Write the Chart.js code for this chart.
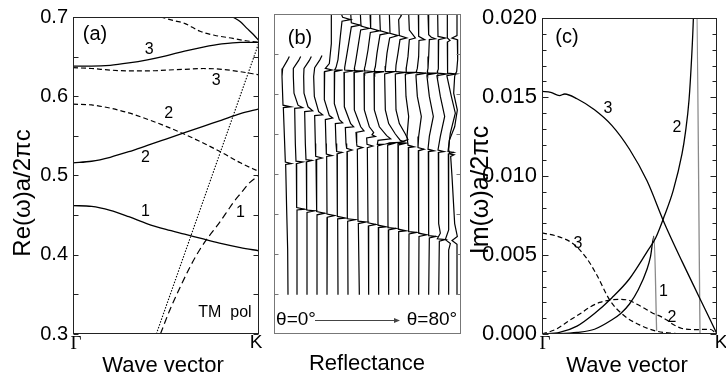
<!DOCTYPE html>
<html>
<head>
<meta charset="utf-8">
<script src="https://cdn.jsdelivr.net/npm/chart.js@4.4.0/dist/chart.umd.min.js"></script>
<style>
  html, body { margin: 0; padding: 0; background: #fff; }
  #wrap { position: relative; width: 726px; height: 376px; overflow: hidden; }
  canvas { position: absolute; top: 0; }
</style>
</head>
<body>
<div id="wrap">
  <canvas id="bandChart" width="265" height="376" style="left:0"></canvas>
  <canvas id="reflChart" width="205" height="376" style="left:265px"></canvas>
  <canvas id="lossChart" width="256" height="376" style="left:470px"></canvas>
</div>
<script>
const SANS = "'Liberation Sans', Arial, sans-serif";
const SERIF = "'Liberation Serif', 'Times New Roman', serif";
Chart.defaults.font.family = SANS;
Chart.defaults.color = '#000';

// ---- (a) Re(w)a/2pi c along Gamma -> K
const kBand = [0, 0.1, 0.2, 0.3, 0.4, 0.5, 0.6, 0.7, 0.8, 0.9, 1.0];
const reSolid1 = [0.462, 0.461, 0.456, 0.448, 0.439, 0.432, 0.426, 0.420, 0.414, 0.409, 0.405];
const reSolid2 = [0.516, 0.518, 0.523, 0.530, 0.538, 0.546, 0.554, 0.562, 0.570, 0.578, 0.584];
const reSolid3 = [0.638, 0.638, 0.639, 0.642, 0.646, 0.651, 0.657, 0.662, 0.666, 0.668, 0.668];
const reDash2 = [0.590, 0.589, 0.585, 0.579, 0.571, 0.562, 0.552, 0.541, 0.529, 0.516, 0.505];
const reDash3 = [0.636, 0.635, 0.633, 0.632, 0.632, 0.633, 0.634, 0.635, 0.634, 0.631, 0.627];
const kDash1 = [0.47, 0.52, 0.576, 0.63, 0.683, 0.73, 0.773, 0.83, 0.862, 0.9, 0.95, 1.0];
const reDash1 = [0.300, 0.330, 0.359, 0.385, 0.407, 0.423, 0.436, 0.455, 0.466, 0.477, 0.491, 0.500];
const kDash4 = [0.47, 0.55, 0.6, 0.683, 0.76, 0.86, 0.93, 1.0];
const reDash4 = [0.700, 0.695, 0.692, 0.682, 0.677, 0.673, 0.670, 0.668];
const kSolid4 = [0.86, 0.9, 0.934, 0.97, 1.0];
const reSolid4 = [0.700, 0.694, 0.686, 0.678, 0.670];
const kLight = [0.448, 1.0];
const reLight = [0.300, 0.668];

// ---- (b) reflectance traces, theta = 0 ... 80 deg, [offset, frequency]
const reflTraces = [
  [[52,.647],[46,.642],[32,.632],[30,.622],[33,.586],[56,.584],[34,.583],[40,.515],[58,.513],[41,.512],[44,.455],[47,.405],[48,.349]],
  [[86,.647],[80,.642],[64,.632],[64,.622],[66,.601],[78,.586],[92,.583],[68,.582],[70,.538],[72,.516],[92,.515],[73,.513],[74,.458],[98,.456],[75,.455],[75,.349]],
  [[118,.647],[112,.642],[96,.632],[95,.622],[96,.601],[108,.584],[122,.579],[98,.578],[100,.538],[102,.518],[120,.517],[103,.515],[104,.455],[128,.454],[105,.452],[105,.349]],
  [[150,.648],[144,.643],[128,.633],[125,.622],[127,.597],[140,.578],[152,.574],[128,.573],[130,.538],[131,.522],[150,.520],[132,.518],[134,.453],[158,.451],[135,.449],[135,.349]],
  [[178,.701],[178,.663],[172,.638],[160,.632],[180,.630],[158,.628],[156,.622],[158,.593],[172,.573],[182,.570],[160,.568],[162,.538],[163,.525],[180,.523],[164,.522],[165,.450],[188,.448],[166,.446],[165,.349]],
  [[207,.701],[212,.696],[236,.693],[210,.691],[205,.672],[198,.643],[192,.633],[188,.630],[212,.630],[188,.628],[186,.622],[188,.588],[202,.568],[212,.564],[190,.563],[192,.538],[194,.528],[210,.527],[195,.525],[196,.447],[220,.445],[197,.444],[198,.349]],
  [[236,.701],[238,.689],[264,.686],[238,.684],[230,.663],[222,.643],[218,.633],[218,.630],[245,.629],[216,.627],[216,.622],[218,.584],[236,.563],[245,.559],[220,.558],[222,.538],[224,.532],[240,.530],[225,.528],[226,.444],[250,.443],[227,.441],[228,.349]],
  [[265,.701],[267,.685],[292,.682],[266,.680],[258,.659],[250,.638],[247,.632],[248,.629],[275,.629],[246,.627],[246,.622],[248,.580],[266,.559],[276,.554],[252,.552],[254,.538],[255,.535],[272,.533],[256,.531],[258,.441],[282,.440],[259,.438],[262,.349]],
  [[294,.701],[296,.682],[322,.679],[295,.677],[288,.655],[280,.636],[277,.631],[278,.629],[305,.628],[276,.626],[276,.622],[278,.580],[292,.559],[305,.552],[300,.549],[310,.547],[284,.545],[285,.537],[302,.535],[286,.533],[288,.439],[312,.437],[289,.435],[290,.349]],
  [[323,.701],[325,.679],[350,.676],[324,.674],[315,.651],[310,.634],[307,.630],[308,.628],[336,.628],[306,.626],[306,.622],[308,.580],[322,.559],[344,.548],[356,.544],[318,.542],[316,.537],[334,.537],[317,.535],[318,.436],[342,.434],[319,.433],[320,.349]],
  [[352,.701],[354,.676],[378,.673],[353,.670],[345,.651],[341,.635],[339,.630],[340,.628],[368,.628],[338,.625],[338,.622],[340,.580],[350,.563],[370,.550],[385,.542],[398,.540],[352,.539],[346,.538],[364,.538],[347,.536],[348,.433],[372,.432],[349,.430],[350,.349]],
  [[381,.701],[388,.698],[380,.693],[382,.673],[404,.670],[384,.668],[378,.651],[372,.636],[371,.629],[372,.628],[400,.627],[370,.625],[370,.622],[372,.580],[382,.563],[400,.550],[408,.543],[380,.539],[378,.538],[397,.538],[378,.536],[379,.431],[402,.429],[380,.428],[380,.349]],
  [[410,.701],[412,.680],[430,.670],[412,.668],[408,.647],[403,.633],[402,.629],[403,.627],[432,.627],[401,.625],[400,.622],[402,.597],[410,.572],[405,.547],[408,.536],[426,.534],[409,.533],[410,.428],[434,.427],[411,.425],[410,.349]],
  [[439,.701],[440,.672],[458,.668],[441,.667],[440,.647],[436,.632],[433,.628],[434,.627],[462,.626],[432,.624],[432,.622],[436,.597],[448,.572],[440,.547],[438,.533],[456,.531],[439,.529],[440,.426],[464,.424],[441,.422],[440,.349]],
  [[468,.701],[470,.674],[478,.671],[490,.669],[472,.668],[470,.647],[468,.632],[466,.628],[467,.626],[495,.626],[465,.624],[465,.622],[472,.597],[484,.572],[472,.547],[468,.531],[486,.529],[469,.528],[470,.423],[492,.422],[472,.420],[470,.349]],
  [[497,.701],[498,.672],[520,.670],[500,.668],[500,.647],[498,.631],[496,.628],[497,.626],[524,.625],[495,.623],[495,.622],[505,.597],[518,.572],[505,.547],[498,.530],[516,.528],[499,.527],[500,.438],[505,.426],[496,.419],[520,.418],[502,.416],[500,.349]],
  [[526,.701],[526,.670],[534,.667],[526,.665],[527,.647],[527,.631],[526,.627],[527,.626],[552,.625],[525,.623],[525,.622],[538,.597],[550,.576],[535,.551],[528,.528],[545,.527],[529,.525],[530,.430],[520,.418],[535,.413],[530,.405],[530,.349]],
  [[555,.701],[555,.673],[540,.670],[556,.668],[557,.643],[554,.628],[550,.625],[548,.622],[545,.601],[556,.580],[548,.559],[532,.542],[530,.530],[534,.525],[546,.524],[536,.522],[540,.497],[548,.438],[556,.422],[540,.417],[555,.412],[555,.349]]
];
const reflTickFreqs = [0.35, 0.4, 0.45, 0.5, 0.55, 0.6, 0.65];

// ---- (c) Im(w)a/2pi c along Gamma -> K
const kIm3 = [0, 0.05, 0.1, 0.13, 0.2, 0.3, 0.4, 0.5, 0.6, 0.7, 0.8, 0.9, 1.0];
const imSolid3 = [0.01536, 0.0153, 0.0151, 0.0152, 0.0149, 0.0142, 0.0132, 0.0117, 0.0097, 0.0070, 0.0046, 0.0023, 0.0];
const kIm2 = [0, 0.1, 0.2, 0.3, 0.4, 0.5, 0.6, 0.65, 0.7, 0.75, 0.8, 0.82, 0.84, 0.855, 0.865, 0.872, 0.88, 0.903];
const imSolid2 = [0, 0.0001, 0.0005, 0.0013, 0.0023, 0.0035, 0.0052, 0.0061, 0.0075, 0.0091, 0.0114, 0.0128, 0.0148, 0.0175, 0.0200, 0.0230, 0.0230, 0.0];
const kIm1 = [0, 0.1, 0.2, 0.3, 0.4, 0.45, 0.5, 0.55, 0.6, 0.62, 0.64, 0.655];
const imSolid1 = [0, 0.00002, 0.0001, 0.0003, 0.0009, 0.0013, 0.0019, 0.0028, 0.0041, 0.0049, 0.0062, 0.0002];
const kImD3 = [0, 0.084, 0.18, 0.255, 0.31, 0.39, 0.465, 0.56, 0.655, 0.75, 0.85, 1.0];
const imDash3 = [0.0064, 0.0062, 0.0057, 0.0048, 0.0038, 0.0021, 0.0012, 0.00056, 0.00018, 0.00005, 0.0, 0.0];
const kImD2 = [0, 0.08, 0.16, 0.22, 0.274, 0.33, 0.389, 0.446, 0.5, 0.54, 0.59, 0.636, 0.68, 0.713, 0.75, 0.8, 0.884, 0.96, 1.0];
const imDash2 = [0, 0.0003, 0.00088, 0.0013, 0.0017, 0.0020, 0.00215, 0.0022, 0.00212, 0.0019, 0.0016, 0.0013, 0.0011, 0.00088, 0.0006, 0.00035, 0.00028, 0.0003, 0.0];

function curve(xs, ys, extra) {
  return Object.assign({
    data: xs.map((x, i) => ({x: x, y: ys[i]})),
    showLine: true, borderColor: '#000', borderWidth: 1.3, pointRadius: 0,
    fill: false, cubicInterpolationMode: 'monotone'
  }, extra || {});
}

// frame, inward ticks and free text for each panel
function makeDeco(cfg) {
  return {
    id: 'deco',
    afterDatasetsDraw(chart) {
      const ctx = chart.ctx, a = chart.chartArea, sx = chart.scales.x, sy = chart.scales.y;
      ctx.save();
      const L = Math.round(a.left) + 0.5, R = Math.round(a.right) - 0.5;
      const T = Math.round(a.top) + 0.5, B = Math.round(a.bottom) - 0.5;
      ctx.strokeStyle = cfg.frame; ctx.lineWidth = 1;
      ctx.strokeRect(L, T, R - L, B - T);
      const vals = cfg.tickValues || sy.ticks.map(t => t.value);
      vals.forEach(v => {
        const py = Math.round(sy.getPixelForValue(v)) + 0.5;
        const major = cfg.majorEvery && Math.abs(v / cfg.majorEvery - Math.round(v / cfg.majorEvery)) < 1e-6;
        const len = major ? cfg.majorLen : cfg.minorLen;
        ctx.beginPath();
        ctx.moveTo(L, py); ctx.lineTo(L + len, py);
        ctx.moveTo(R, py); ctx.lineTo(R - len, py);
        ctx.stroke();
      });
      (cfg.texts || []).forEach(t => {
        const x = t.data ? sx.getPixelForValue(t.x) : t.x;
        const y = t.data ? sy.getPixelForValue(t.y) : t.y;
        ctx.save();
        ctx.translate(x, y);
        if (t.rot) ctx.rotate(t.rot);
        ctx.font = t.font; ctx.fillStyle = '#000';
        ctx.textAlign = 'center'; ctx.textBaseline = 'middle';
        ctx.fillText(t.text, 0, 0);
        ctx.restore();
      });
      if (cfg.arrow) {
        const ar = cfg.arrow;
        ctx.strokeStyle = '#444'; ctx.fillStyle = '#444'; ctx.lineWidth = 1;
        ctx.beginPath(); ctx.moveTo(ar.x0, ar.y + 0.5); ctx.lineTo(ar.x1 - 5, ar.y + 0.5); ctx.stroke();
        ctx.beginPath(); ctx.moveTo(ar.x1, ar.y + 0.5); ctx.lineTo(ar.x1 - 6, ar.y - 2);
        ctx.lineTo(ar.x1 - 6, ar.y + 3); ctx.closePath(); ctx.fill();
      }
      ctx.restore();
    }
  };
}

const DASH = [5, 3];
const lbl = (text, x, y) => ({text, x, y, data: true, font: '16px ' + SANS});

// ---------- panel (a)
new Chart(document.getElementById('bandChart'), {
  type: 'scatter',
  data: { datasets: [
    curve(kBand, reSolid1), curve(kBand, reSolid2), curve(kBand, reSolid3),
    curve(kBand, reDash2, {borderDash: DASH, borderWidth: 1.2}),
    curve(kBand, reDash3, {borderDash: DASH, borderWidth: 1.2}),
    curve(kDash1, reDash1, {borderDash: [7, 4], borderWidth: 1.2}),
    curve(kDash4, reDash4, {borderDash: DASH, borderWidth: 1.2}),
    curve(kSolid4, reSolid4),
    curve(kLight, reLight, {borderDash: [1.5, 1.5], borderWidth: 1.1})
  ]},
  options: {
    responsive: false, animation: false, events: [],
    layout: { padding: {top: 14, right: 6, bottom: 42, left: 0} },
    plugins: { legend: {display: false}, tooltip: {enabled: false} },
    scales: {
      x: { type: 'linear', min: 0, max: 1, display: false },
      y: {
        min: 0.3, max: 0.7,
        grid: {display: false, drawTicks: false}, border: {display: false},
        ticks: {
          stepSize: 0.05, autoSkip: false, maxTicksLimit: 30, padding: 5,
          font: {size: 20, family: SANS}, color: '#000',
          callback: v => Math.abs(v * 10 - Math.round(v * 10)) < 1e-6 ? v.toFixed(1) : ''
        },
        afterFit: s => { s.width = 73; }
      }
    }
  },
  plugins: [makeDeco({
    frame: '#222', minorLen: 5, majorLen: 5,
    texts: [
      lbl('1', 0.39, 0.455), lbl('2', 0.39, 0.522), lbl('3', 0.41, 0.659),
      lbl('3', 0.77, 0.620), lbl('2', 0.515, 0.578), lbl('1', 0.90, 0.453),
      {text: '(a)', x: 95, y: 34, font: '20px ' + SANS},
      {text: 'TM  pol', x: 225, y: 313, font: '16px ' + SANS},
      {text: 'Γ', x: 76, y: 344, font: '19px ' + SERIF},
      {text: 'K', x: 256, y: 343, font: '19px ' + SANS},
      {text: 'Wave vector', x: 163, y: 366, font: '22px ' + SANS},
      {text: 'Re(ω)a/2πc', x: 23, y: 193, rot: -Math.PI / 2, font: '24px ' + SANS}
    ]
  })]
});

// ---------- panel (b)
new Chart(document.getElementById('reflChart'), {
  type: 'scatter',
  data: { datasets: reflTraces.map(tr => ({
    data: tr.map(p => ({x: p[0], y: p[1]})),
    showLine: true, borderColor: '#000', borderWidth: 1.2, pointRadius: 0, tension: 0
  }))},
  options: {
    responsive: false, animation: false, events: [],
    layout: { padding: {top: 14, right: 9, bottom: 42, left: 9} },
    plugins: { legend: {display: false}, tooltip: {enabled: false} },
    scales: {
      x: { type: 'linear', min: 6, max: 567, display: false },
      y: { min: 0.3, max: 0.7, display: false }
    }
  },
  plugins: [makeDeco({
    frame: '#777', tickValues: reflTickFreqs, minorLen: 4, majorLen: 4,
    texts: [
      {text: '(b)', x: 35, y: 38, font: '20px ' + SANS},
      {text: 'θ=0°', x: 31, y: 320, font: '19px ' + SANS},
      {text: 'θ=80°', x: 167, y: 320, font: '19px ' + SANS},
      {text: 'Reflectance', x: 102, y: 364, font: '22px ' + SANS}
    ],
    arrow: {x0: 50, x1: 135, y: 320}
  })]
});

// ---------- panel (c)
const GREY = '#8a8a8a';
new Chart(document.getElementById('lossChart'), {
  type: 'scatter',
  data: { datasets: [
    curve(kIm3, imSolid3),
    curve(kIm2, imSolid2, {segment: {borderColor: c => c.p0DataIndex >= kIm2.length - 2 ? GREY : undefined}}),
    curve(kIm1, imSolid1, {segment: {borderColor: c => c.p0DataIndex >= kIm1.length - 2 ? GREY : undefined}}),
    curve(kImD3, imDash3, {borderDash: DASH, borderWidth: 1.2}),
    curve(kImD2, imDash2, {borderDash: DASH, borderWidth: 1.2})
  ]},
  options: {
    responsive: false, animation: false, events: [],
    layout: { padding: {top: 14, right: 9, bottom: 42, left: 0} },
    plugins: { legend: {display: false}, tooltip: {enabled: false} },
    scales: {
      x: { type: 'linear', min: 0, max: 1, display: false },
      y: {
        min: 0, max: 0.02,
        grid: {display: false, drawTicks: false}, border: {display: false},
        ticks: {
          stepSize: 0.001, autoSkip: false, maxTicksLimit: 30, padding: 5,
          font: {size: 22, family: SANS}, color: '#000',
          callback: v => Math.abs(v / 0.005 - Math.round(v / 0.005)) < 1e-6 ? v.toFixed(3) : ''
        },
        afterFit: s => { s.width = 72; }
      }
    }
  },
  plugins: [makeDeco({
    frame: '#222', majorEvery: 0.005, minorLen: 4, majorLen: 6,
    texts: [
      lbl('3', 0.377, 0.01425), lbl('2', 0.771, 0.01306), lbl('3', 0.206, 0.0057),
      lbl('1', 0.694, 0.0027), lbl('2', 0.743, 0.00106),
      {text: '(c)', x: 97, y: 37, font: '20px ' + SANS},
      {text: 'Γ', x: 75, y: 344, font: '19px ' + SERIF},
      {text: 'K', x: 251, y: 343, font: '19px ' + SANS},
      {text: 'Wave vector', x: 157, y: 366, font: '22px ' + SANS},
      {text: 'Im(ω)a/2πc', x: 11, y: 190, rot: -Math.PI / 2, font: '25px ' + SANS}
    ]
  })]
});
</script>
</body>
</html>
